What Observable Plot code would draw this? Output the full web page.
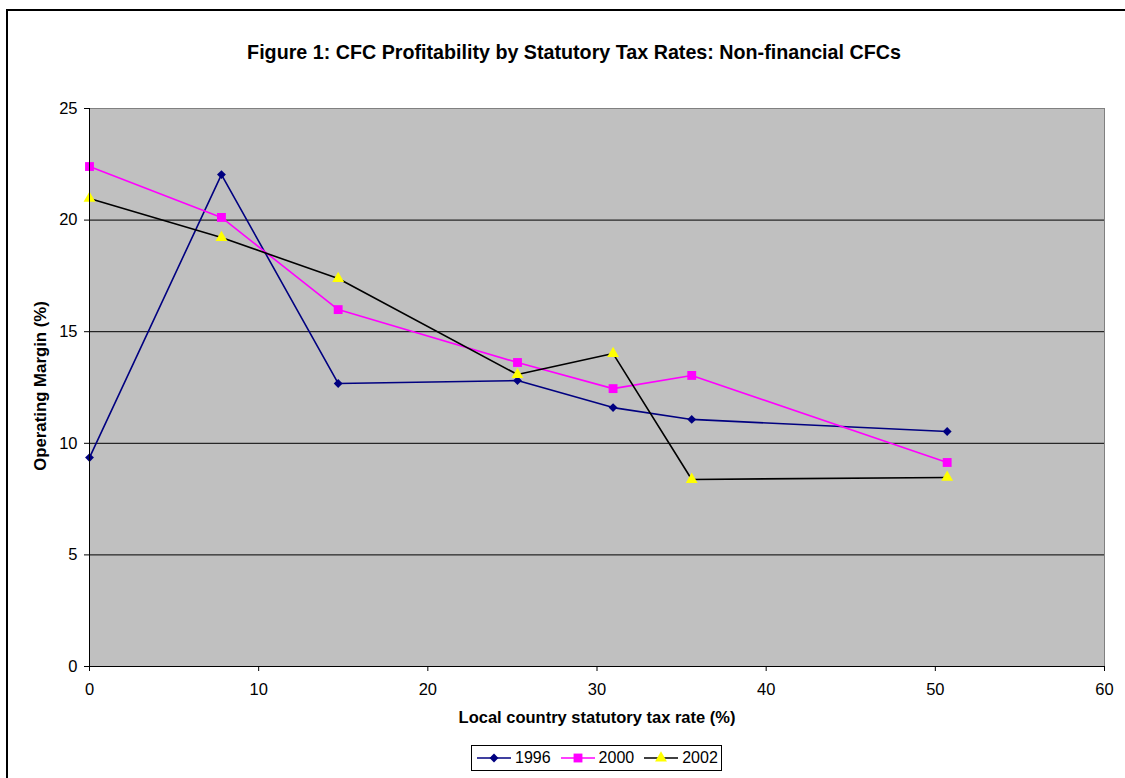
<!DOCTYPE html>
<html>
<head>
<meta charset="utf-8">
<script src="https://cdn.jsdelivr.net/npm/d3@7"></script>
<script src="https://cdn.jsdelivr.net/npm/@observablehq/plot@0.6"></script>
<style>
  html, body { margin: 0; padding: 0; background: #fff; width: 1125px; height: 778px; overflow: hidden; }
  body { position: relative; font-family: "Liberation Sans", Arial, sans-serif; color: #000; }
  #frame { position: absolute; left: 6px; top: 9px; width: 1140px; height: 790px; border: 2px solid #000; box-sizing: border-box; }
  #chart { position: absolute; left: 0; top: 0; }
  .txt { position: absolute; white-space: nowrap; font-weight: bold; }
  #title { left: 574px; top: 52px; transform: translate(-50%, -50%); font-size: 19.7px; }
  #xlabel { left: 597px; top: 717px; transform: translate(-50%, -50%); font-size: 16.5px; }
  #ylabel { left: 41px; top: 386px; transform: translate(-50%, -50%) rotate(-90deg); font-size: 16.8px; }
  #legend { position: absolute; left: 471px; top: 745px; width: 251px; height: 26px; border: 1px solid #000; background: #fff; box-sizing: border-box; display: flex; align-items: center; padding-left: 5px; font-size: 16px; }
  #legend .item { display: flex; align-items: center; margin-right: 10px; }
  #legend svg { margin-right: 4px; }
</style>
</head>
<body>
<div id="frame"></div>
<div id="chart"></div>
<div id="title" class="txt">Figure 1: CFC Profitability by Statutory Tax Rates: Non-financial CFCs</div>
<div id="xlabel" class="txt">Local country statutory tax rate (%)</div>
<div id="ylabel" class="txt">Operating Margin (%)</div>
<div id="legend"></div>
<script>
// Data
const taxRate = [0, 7.8, 14.7, 25.3, 30.95, 35.6, 50.7];
const margin1996 = [9.36, 22.04, 12.68, 12.81, 11.6, 11.07, 10.53];
const margin2000 = [22.4, 20.12, 15.99, 13.62, 12.45, 13.04, 9.14];
const margin2002 = [20.97, 19.22, 17.38, 13.08, 14.02, 8.38, 8.47];
const seriesNames = ["1996", "2000", "2002"];
const xTicks = [0, 10, 20, 30, 40, 50, 60];
const yTicks = [0, 5, 10, 15, 20, 25];

const seriesStyle = {
  "1996": {line: "#000080", fill: "#000080", symbol: "diamond2", r: 4.0},
  "2000": {line: "#FF00FF", fill: "#FF00FF", symbol: "square", r: 5.0},
  "2002": {line: "#000000", fill: "#FFFF00", symbol: "triangle", r: 4.4}
};

const allValues = [margin1996, margin2000, margin2002];
const rows = [];
seriesNames.forEach((s, i) => {
  taxRate.forEach((x, j) => rows.push({series: s, x, y: allValues[i][j]}));
});

const marks = [
  Plot.frame({fill: "#C0C0C0", stroke: "#808080"}),
  Plot.ruleY([5, 10, 15, 20], {stroke: "#000", strokeWidth: 1}),
];
seriesNames.forEach(s => {
  const data = rows.filter(d => d.series === s);
  const st = seriesStyle[s];
  marks.push(Plot.line(data, {x: "x", y: "y", stroke: st.line, strokeWidth: 1.6}));
});
seriesNames.forEach(s => {
  const data = rows.filter(d => d.series === s);
  const st = seriesStyle[s];
  marks.push(Plot.dot(data, {x: "x", y: "y", symbol: () => st.symbol, fill: st.fill, stroke: "none", r: st.r}));
});
marks.push(
  Plot.ruleX([0], {stroke: "#000", strokeWidth: 1}),
  Plot.ruleY([0], {stroke: "#000", strokeWidth: 1}),
  Plot.axisY({ticks: yTicks, tickSize: 5, tickPadding: 7, label: null, stroke: "#000"}),
  Plot.axisX({ticks: xTicks, tickSize: 5, tickPadding: 12, label: null, stroke: "#000"})
);

const plot = Plot.plot({
  width: 1125,
  height: 778,
  marginLeft: 89,
  marginRight: 21,
  marginTop: 108,
  marginBottom: 112,
  x: {domain: [0, 60]},
  y: {domain: [0, 25]},
  symbol: {type: "identity"},
  style: {fontFamily: "'Liberation Sans', Arial, sans-serif", fontSize: "16.5px", color: "#000", background: "transparent", overflow: "visible"},
  marks
});
document.getElementById("chart").appendChild(plot);

// Legend
const legend = document.getElementById("legend");
seriesNames.forEach(s => {
  const st = seriesStyle[s];
  const item = document.createElement("div");
  item.className = "item";
  const svg = d3.create("svg").attr("width", 34).attr("height", 14);
  svg.append("line").attr("x1", 0).attr("x2", 34).attr("y1", 7).attr("y2", 7).attr("stroke", st.line).attr("stroke-width", 1.5);
  const sym = {diamond2: d3.symbolDiamond2, square: d3.symbolSquare, triangle: d3.symbolTriangle}[st.symbol];
  svg.append("path").attr("transform", "translate(17,7)").attr("d", d3.symbol(sym, Math.PI * st.r * st.r)()).attr("fill", st.fill);
  item.appendChild(svg.node());
  const label = document.createElement("span");
  label.textContent = s;
  item.appendChild(label);
  legend.appendChild(item);
});
</script>
</body>
</html>
